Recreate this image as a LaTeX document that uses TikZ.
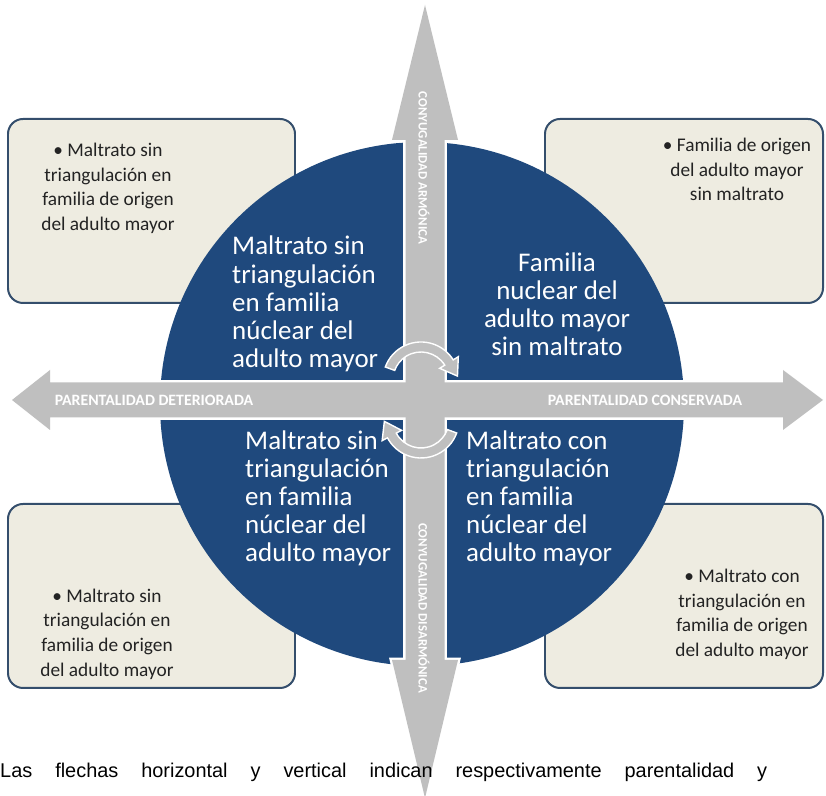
\documentclass[tikz,border=0pt]{standalone}
\usepackage{fontspec}
\setmainfont{Carlito}
\newfontfamily\notefont{Liberation Sans}
\usetikzlibrary{calc}
\definecolor{quadblue}{RGB}{31,73,125}
\definecolor{bargray}{RGB}{191,191,191}
\definecolor{boxfill}{RGB}{238,236,225}
\definecolor{boxline}{RGB}{52,78,108}
\definecolor{boxtext}{RGB}{35,35,35}

\begin{document}
\begin{tikzpicture}[x=0.03cm, y=0.03cm,
% common options for the four side boxes:
sidebox/.style = {draw=boxline, fill=boxfill, line width=1.7pt,
            rounded corners=0.45cm, minimum height=184*0.03cm, inner sep=0},
sidetext/.style = {align=center, text=boxtext, inner sep=0,
            font=\fontsize{16.5}{21}\selectfont},
% common options for the texts in the disc:
quadtext/.style = {text=white, inner sep=0, font=\fontsize{23}{24}\selectfont},
barlabel/.style = {text=white, inner sep=0, font=\bfseries\fontsize{13.5}{14}\selectfont},
% the two big arrows: white edge first, then the gray body
baredge/.style = {draw=white, line width=4pt},
barfill/.style = {fill=bargray},
cycarrow/.style = {fill=bargray, draw=white, line width=1.2pt}]
\useasboundingbox (0,0) rectangle (826,796);
\node[sidebox, minimum width=287*0.03cm] (boxTL) at (151.5,585) {};
\node[sidebox, minimum width=278*0.03cm] (boxTR) at (684,585) {};
\node[sidebox, minimum width=287*0.03cm] (boxBL) at (151.5,200) {};
\node[sidebox, minimum width=278*0.03cm] (boxBR) at (684,200) {};
\node[circle, fill=quadblue, minimum size=524*0.03cm, inner sep=0] (disc) at (422,392) {};
\draw[baredge] (12,396) -- (50,426) -- (50,413.5) -- (783,413.5) -- (783,426) -- (823,396)
  -- (783,366) -- (783,378.5) -- (50,378.5) -- (50,366) -- cycle;
\draw[baredge] (425,791) -- (458,656) -- (444.5,656) -- (444.5,136) -- (458,136) -- (425,-2)
  -- (392,136) -- (405.5,136) -- (405.5,656) -- (392,656) -- cycle;
\fill[barfill] (12,396) -- (50,426) -- (50,413.5) -- (783,413.5) -- (783,426) -- (823,396)
  -- (783,366) -- (783,378.5) -- (50,378.5) -- (50,366) -- cycle;
\fill[barfill] (425,791) -- (458,656) -- (444.5,656) -- (444.5,136) -- (458,136) -- (425,-2)
  -- (392,136) -- (405.5,136) -- (405.5,656) -- (392,656) -- cycle;
\node[barlabel] (parDet) at (154,396) {PARENTALIDAD DETERIORADA};
\node[barlabel] (parCon) at (645,396) {PARENTALIDAD CONSERVADA};
\node[barlabel, rotate=-90, font=\bfseries\fontsize{11}{12}\selectfont] (conArm) at (424,628) {CONYUGALIDAD ARMÓNICA};
\node[barlabel, rotate=-90, font=\bfseries\fontsize{11}{12}\selectfont] (conDis) at (424,188) {CONYUGALIDAD DISARMÓNICA};
\node[quadtext, anchor=west, align=left] (qTL) at (232,492) {Maltrato sin\\triangulación\\en familia\\núclear del\\adulto mayor};
\node[quadtext, align=center] (qTR) at (557,491.5) {Familia\\nuclear del\\adulto mayor\\sin maltrato};
\node[quadtext, anchor=west, align=left] (qBL) at (245,297.5) {Maltrato sin\\triangulación\\en familia\\núclear del\\adulto mayor};
\node[quadtext, anchor=west, align=left] (qBR) at (466,297.5) {Maltrato con\\triangulación\\en familia\\núclear del\\adulto mayor};
\coordinate (cycA) at (421,416);
\coordinate (cycB) at (421,376);
\filldraw[cycarrow] ($(cycA)+(160:38)$) arc[start angle=160, end angle=32, radius=38]
  -- ($(cycA)+(32:44)$) -- ($(cycA)+(32:33)+(-58:16)$) -- ($(cycA)+(32:22)$)
  -- ($(cycA)+(32:28)$) arc[start angle=32, end angle=160, radius=28] -- cycle;
\filldraw[cycarrow] ($(cycB)+(-20:38)$) arc[start angle=-20, end angle=-152, radius=38]
  -- ($(cycB)+(208:44)$) -- ($(cycB)+(208:33)+(118:16)$) -- ($(cycB)+(208:22)$)
  -- ($(cycB)+(208:28)$) arc[start angle=208, end angle=340, radius=28] -- cycle;
\node[sidetext] (tTL) at (108,607.5) {• Maltrato sin\\triangulación en\\familia de origen\\del adulto mayor};
\node[sidetext] (tTR) at (737,626.5) {• Familia de origen\\del adulto mayor\\sin maltrato};
\node[sidetext] (tBL) at (107,162) {• Maltrato sin\\triangulación en\\familia de origen\\del adulto mayor};
\node[sidetext] (tBR) at (742,181.5) {• Maltrato con\\triangulación en\\familia de origen\\del adulto mayor};
\node[anchor=base west, inner sep=0, font=\notefont\fontsize{17}{20}\selectfont] (note) at (0,18)
  {\makebox[23.01cm][s]{Las flechas horizontal y vertical indican respectivamente parentalidad y}};
\end{tikzpicture}
\end{document}
